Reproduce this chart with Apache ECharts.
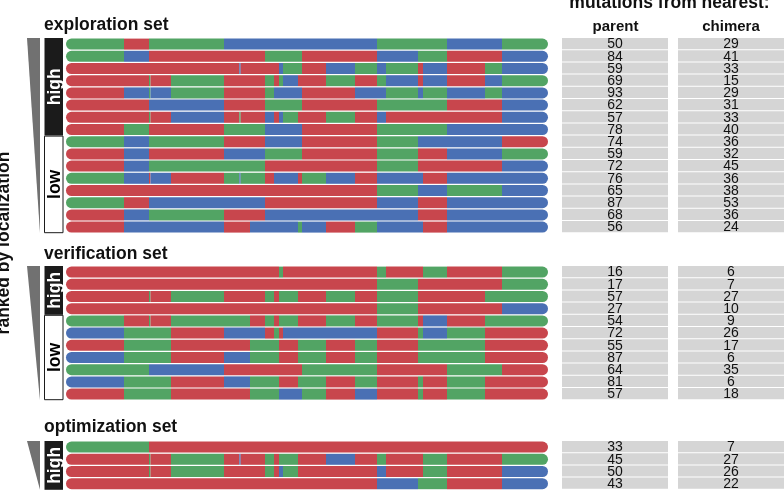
<!DOCTYPE html>
<html>
<head>
<meta charset="utf-8">
<script src="https://cdn.jsdelivr.net/npm/echarts@6/dist/echarts.min.js"></script>
<style>
  html, body { margin: 0; padding: 0; background: #fff; }
  #chart { width: 784px; height: 492px; }
</style>
</head>
<body>
<div id="chart"></div>
<script>
// crossover positions along the sequence (block edges)
const blockEdges = [0, 58, 83, 84.5, 105, 158, 173.3, 174.7, 184, 199, 208, 213, 217, 232, 236, 260, 289, 311, 320, 352, 357, 381, 419, 436, 482];

// one letter per block: which parent the block comes from (R / G / B)
const explorationRows = [
  'GRGGGBBBBBBBBBBBBGGGGBBG',
  'GBRRRRRRRGGGGGRRRBBGGRRB',
  'RRRRRRBRRRRBGGRBGBGRBRGB',
  'RRGRGRRRRGRGBRRGRGBRBRBG',
  'RBGBGRRRRGBBBBRRBBGBGBGB',
  'RRBBBRRRRGGGGGRRRGGGGRRB',
  'RRGRBRGRRBRBGRRGRBRRRRRB',
  'RGRRRGGGGBBBBBRRRGGGGBBB',
  'GBGGGRRRRBBBBBRRRGGBBBBR',
  'RBRRRBBBBGGGGGRRRGGRRBBG',
  'RBGGGGGGGRRRRRRRRGGRRRRB',
  'GBRBRGBGGRBBBRGBRBBBRBBB',
  'RRRRRRRRRRRRRRRRRGGBBGGB',
  'GRBBBBBBBRRRRRRRRBBRRBBB',
  'RBGGGRRRRBBBBBBBBBBRRBBB',
  'RBBBBRRRBBBBBGBRGBBBRBBB'
];
const explorationParent = [50, 84, 59, 69, 93, 62, 57, 78, 74, 59, 72, 76, 65, 87, 68, 56];
const explorationChimera = [29, 41, 33, 15, 29, 31, 33, 40, 36, 32, 45, 36, 38, 53, 36, 24];

const verificationRows = [
  'RRRRRRRRRRRGRRRRRGRRGRRG',
  'RRRRRRRRRRRRRRRRRGGRRRRG',
  'RRGRGRRRRGRGGRRGRGGRRRGG',
  'RRRRRRRRRRRRRRRRRGGRRRRB',
  'GRGRGGGGRGRGGRRGRGGRBRGG',
  'BGGGRBBBBRGRBBBBBRRGBGRR',
  'RGGGRRRRGGGRRGGRGRRGGGRR',
  'BGGGRBBBGGGRRGGRGRRGGGRR',
  'GGBBBRRRRRRRRRGGGRRRRGGR',
  'BGGGRBBBGGGRRGGRGRRGRGRR',
  'RGGGRRRRGGGBBBGRBRRGRGRR'
];
const verificationParent = [16, 17, 57, 27, 54, 72, 55, 87, 64, 81, 57];
const verificationChimera = [6, 7, 27, 10, 9, 26, 17, 6, 35, 6, 18];

const optimizationRows = [
  'GGRRRRRRRRRRRRRRRRRRRRRR',
  'RRGRGRBRRGRGGRRBRGRRGRRG',
  'RRGRGRRRRGRBGRRRRBRRGRRB',
  'RRRRRRRRRRRRRRRRRBBGGRRB'
];
const optimizationParent = [33, 45, 50, 43];
const optimizationChimera = [7, 27, 26, 22];

const colorKeys = 'RGB';
const COLORS = ['#c8464d', '#52a464', '#4a70b4'];
const FONT = 'Liberation Sans, Arial, Helvetica, sans-serif';
const ROW_H = 12.2;

const sets = [
  { title: 'exploration set', rows: explorationRows, parent: explorationParent, chimera: explorationChimera,
    top: 38, titleY: 26.5, levels: [['high', 0, 7], ['low', 8, 15]] },
  { title: 'verification set', rows: verificationRows, parent: verificationParent, chimera: verificationChimera,
    top: 266, titleY: 255.5, levels: [['high', 0, 3], ['low', 4, 10]] },
  { title: 'optimization set', rows: optimizationRows, parent: optimizationParent, chimera: optimizationChimera,
    top: 441, titleY: 428.5, levels: [['high', 0, 3]] }
];

const chart = echarts.init(document.getElementById('chart'), null, { renderer: 'canvas' });

const grids = [], xAxes = [], yAxes = [], series = [];
const graphics = [];

sets.forEach((set) => {
  const n = set.rows.length;
  const addGrid = (left, width, max) => {
    const idx = grids.length;
    grids.push({ left: left, top: set.top, width: width, height: n * ROW_H });
    xAxes.push({ type: 'value', gridIndex: idx, min: 0, max: max, show: false });
    yAxes.push({ type: 'category', gridIndex: idx, inverse: true, show: false,
      data: set.rows.map((_, i) => i) });
    return idx;
  };
  const gRows = addGrid(66, 482, blockEdges[blockEdges.length - 1]);
  const gSide = addGrid(27, 36, 1);
  const gPar = addGrid(562, 106, 1);
  const gChi = addGrid(678, 106, 1);

  // merge neighbouring blocks of same parent into one run
  const segs = [];
  set.rows.forEach((row, r) => {
    let i = 0;
    while (i < row.length) {
      let j = i;
      while (j + 1 < row.length && row[j + 1] === row[i]) j++;
      segs.push([blockEdges[i], blockEdges[j + 1], r, colorKeys.indexOf(row[i]),
        i === 0 ? 1 : 0, j === row.length - 1 ? 1 : 0]);
      i = j + 1;
    }
  });

  series.push({
    type: 'custom',
    xAxisIndex: gRows, yAxisIndex: gRows,
    silent: true,
    data: segs,
    renderItem: function (params, api) {
      const p0 = api.coord([api.value(0), api.value(2)]);
      const p1 = api.coord([api.value(1), api.value(2)]);
      const hh = api.size([0, 1])[1] - 1.2;
      const rr = hh / 2;
      const first = api.value(4), last = api.value(5);
      return {
        type: 'rect',
        shape: { x: p0[0], y: p0[1] - hh / 2, width: p1[0] - p0[0], height: hh,
          r: [first ? rr : 0, last ? rr : 0, last ? rr : 0, first ? rr : 0] },
        style: { fill: COLORS[api.value(3)] }
      };
    }
  });

  // wedge
  series.push({
    type: 'custom',
    xAxisIndex: gSide, yAxisIndex: gSide,
    silent: true,
    data: [[0, n - 1]],
    renderItem: function (params, api) {
      const bh = api.size([0, 1])[1];
      const t = api.coord([0, api.value(0)])[1] - bh / 2;
      const b = api.coord([0, api.value(1)])[1] + bh / 2;
      const x0 = params.coordSys.x;
      return {
        type: 'polygon',
        shape: { points: [[x0, t], [x0 + 13, t], [x0 + 13, b]] },
        style: { fill: '#717171' }
      };
    }
  });

  // high / low boxes
  series.push({
    type: 'custom',
    xAxisIndex: gSide, yAxisIndex: gSide,
    silent: true,
    data: set.levels.map((l) => [l[1], l[2], l[0] === 'high' ? 1 : 0]),
    renderItem: function (params, api) {
      const bh = api.size([0, 1])[1];
      const t = api.coord([0, api.value(0)])[1] - bh / 2;
      const b = api.coord([0, api.value(1)])[1] + bh / 2;
      const x0 = params.coordSys.x + 17.5;
      const w = 18.5;
      const dark = api.value(2) === 1;
      return {
        type: 'group',
        children: [
          { type: 'rect', shape: { x: x0, y: t + (dark ? 0 : 0.5), width: w, height: b - t - (dark ? 0 : 1) },
            style: { fill: dark ? '#1b1b1b' : '#fff', stroke: '#1b1b1b', lineWidth: dark ? 0 : 1 } },
          { type: 'text', x: x0 + w / 2 + 1, y: (t + b) / 2, rotation: Math.PI / 2,
            style: { text: dark ? 'high' : 'low', x: 0, y: 0, align: 'center', verticalAlign: 'middle',
              fill: dark ? '#fff' : '#000', fontFamily: FONT, fontWeight: 'bold', fontSize: 17.5 } }
        ]
      };
    }
  });

  // mutation count tables
  [[gPar, set.parent], [gChi, set.chimera]].forEach(([g, vals]) => {
    series.push({
      type: 'custom',
      xAxisIndex: g, yAxisIndex: g,
      silent: true,
      data: vals.map((v, i) => [i, v]),
      renderItem: function (params, api) {
        const c = api.coord([0, api.value(0)]);
        const bh = api.size([0, 1])[1];
        const cs = params.coordSys;
        return {
          type: 'group',
          children: [
            { type: 'rect', shape: { x: cs.x, y: c[1] - bh / 2, width: cs.width, height: bh - 1 },
              style: { fill: '#d5d5d5' } },
            { type: 'text', x: cs.x + cs.width / 2, y: c[1] + 0.5,
              style: { text: String(api.value(1)), x: 0, y: 0, align: 'center', verticalAlign: 'middle',
                fill: '#111', fontFamily: FONT, fontSize: 14 } }
          ]
        };
      }
    });
  });

  graphics.push({
    type: 'text', left: 44, top: set.titleY - 10,
    style: { text: set.title, fill: '#111', fontFamily: FONT, fontWeight: 'bold', fontSize: 17.5 }
  });
});

graphics.push(
  { type: 'text', x: 669.5, y: 3.5,
    style: { text: 'mutations from nearest:', align: 'center', verticalAlign: 'middle', fill: '#111',
      fontFamily: FONT, fontWeight: 'bold', fontSize: 17.5 } },
  { type: 'text', x: 615.5, y: 27,
    style: { text: 'parent', align: 'center', verticalAlign: 'middle', fill: '#111',
      fontFamily: FONT, fontWeight: 'bold', fontSize: 15 } },
  { type: 'text', x: 731, y: 27,
    style: { text: 'chimera', align: 'center', verticalAlign: 'middle', fill: '#111',
      fontFamily: FONT, fontWeight: 'bold', fontSize: 15 } },
  { type: 'text', x: 4, y: 243, rotation: Math.PI / 2,
    style: { text: 'ranked by localization', align: 'center', verticalAlign: 'middle', fill: '#111',
      fontFamily: FONT, fontWeight: 'bold', fontSize: 17.5 } }
);

chart.setOption({
  animation: false,
  backgroundColor: '#fff',
  grid: grids,
  xAxis: xAxes,
  yAxis: yAxes,
  series: series,
  graphic: graphics
});
</script>
</body>
</html>
